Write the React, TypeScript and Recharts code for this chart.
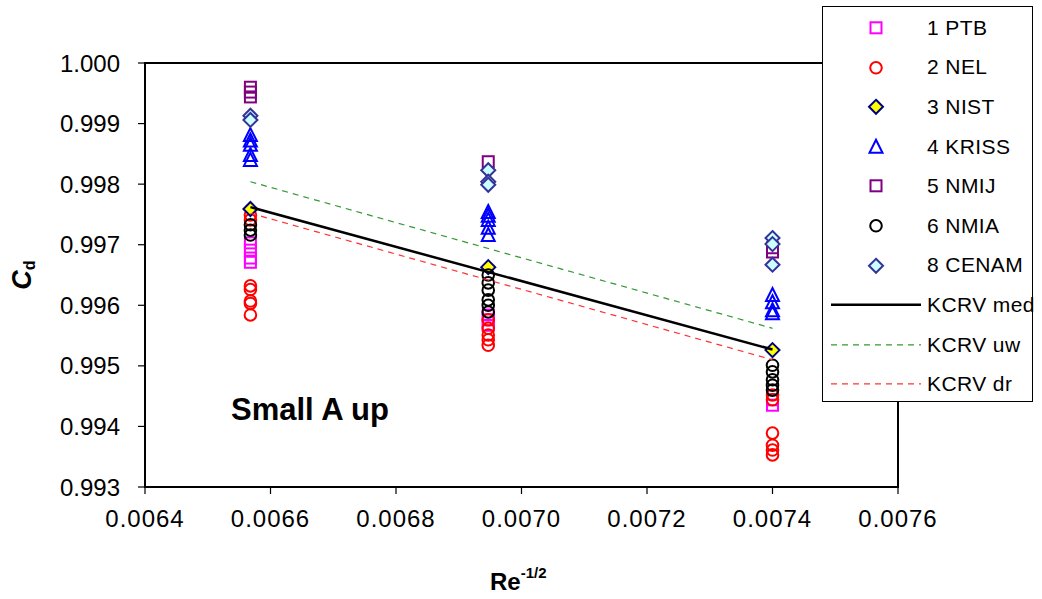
import React from 'react';
import {
  ScatterChart, Scatter, XAxis, YAxis, ReferenceArea, Legend, Customized,
} from 'recharts';

// Re^-1/2 positions of the three test points
const RE = [0.006568, 0.006947, 0.0074];

// Cd per lab, one list per test point
const ptb = [[0.99703, 0.99691, 0.99678, 0.99671], [0.99584, 0.99576, 0.99567], [0.99444, 0.99435]];
const nel = [
  [0.99749, 0.99741, 0.99632, 0.99626, 0.99607, 0.99603, 0.99584],
  [0.99576, 0.99562, 0.99551, 0.99543, 0.99534],
  [0.99452, 0.99444, 0.99389, 0.99369, 0.99361, 0.99353],
];
const nist = [[0.99759], [0.99663], [0.99526]];
const kriss = [
  [0.99881, 0.99872, 0.99865, 0.99848, 0.9984],
  [0.99754, 0.99748, 0.99741, 0.99728, 0.99716],
  [0.99617, 0.99605, 0.99592, 0.99587],
];
const nmij = [[0.9996, 0.99952, 0.99944], [0.99837], [0.99695, 0.99688]];
const nmia = [
  [0.99733, 0.99724, 0.99716],
  [0.9965, 0.99637, 0.99625, 0.99609, 0.996, 0.99589],
  [0.99501, 0.9949, 0.99477, 0.99468, 0.9946],
];
const cenam = [[0.99913, 0.99906], [0.99823, 0.99804, 0.99799], [0.99711, 0.99701, 0.99667]];

// KCRV lines, value at first and last test point
const lineX = [RE[0], RE[2]];
const kcrvMed = [0.99762, 0.99527];
const kcrvUw = [0.99804, 0.99562];
const kcrvDr = [0.99752, 0.9951];

const xTicks = [0.0064, 0.0066, 0.0068, 0.007, 0.0072, 0.0074, 0.0076];
const yTicks = [0.993, 0.994, 0.995, 0.996, 0.997, 0.998, 0.999, 1.0];

const FONT = '"Liberation Sans", Arial, sans-serif';

const toPts = (vals: number[][]) =>
  vals.flatMap((col, i) => col.map((y) => ({ x: RE[i], y })));
const toLine = (vals: number[]) => vals.map((y, i) => ({ x: lineX[i], y }));

type Kind = 'square' | 'circle' | 'diamond' | 'triangle';

function Marker({ kind, cx, cy, stroke, fill }: { kind: Kind; cx: number; cy: number; stroke: string; fill: string }) {
  if (kind === 'square')
    return <rect x={cx - 5.5} y={cy - 5.5} width={11} height={11} stroke={stroke} strokeWidth={2} fill={fill} />;
  if (kind === 'circle')
    return <circle cx={cx} cy={cy} r={5.8} stroke={stroke} strokeWidth={2} fill={fill} />;
  if (kind === 'diamond')
    return (
      <polygon
        points={`${cx},${cy - 7} ${cx + 7},${cy} ${cx},${cy + 7} ${cx - 7},${cy}`}
        stroke={stroke} strokeWidth={2} fill={fill}
      />
    );
  return (
    <polygon
      points={`${cx},${cy - 7} ${cx + 6.5},${cy + 6} ${cx - 6.5},${cy + 6}`}
      stroke={stroke} strokeWidth={2} fill={fill}
    />
  );
}

const series = [
  { name: '1 PTB', data: ptb, kind: 'square' as Kind, stroke: '#ff00ff', fill: 'none' },
  { name: '2 NEL', data: nel, kind: 'circle' as Kind, stroke: '#ff0000', fill: 'none' },
  { name: '3 NIST', data: nist, kind: 'diamond' as Kind, stroke: '#000080', fill: '#ffff00' },
  { name: '4 KRISS', data: kriss, kind: 'triangle' as Kind, stroke: '#0000ff', fill: 'none' },
  { name: '5 NMIJ', data: nmij, kind: 'square' as Kind, stroke: '#800080', fill: 'none' },
  { name: '6 NMIA', data: nmia, kind: 'circle' as Kind, stroke: '#000000', fill: 'none' },
  { name: '8 CENAM', data: cenam, kind: 'diamond' as Kind, stroke: '#333399', fill: '#ccffff' },
];

const lines = [
  { name: 'KCRV med', data: kcrvMed, stroke: '#000000', width: 2.5, dash: undefined },
  { name: 'KCRV uw', data: kcrvUw, stroke: '#339933', width: 1.2, dash: '6 5' },
  { name: 'KCRV dr', data: kcrvDr, stroke: '#ff3333', width: 1.2, dash: '6 5' },
];

function LegendBox() {
  const rowH = 39.6;
  const label = { position: 'absolute' as const, left: 104, top: rowH / 2 - 12, lineHeight: '24px', whiteSpace: 'nowrap' as const, letterSpacing: 0.4 };
  return (
    <div
      style={{
        position: 'relative', width: 211, height: 396, boxSizing: 'border-box',
        border: '1px solid #000', background: '#fff', fontFamily: FONT, fontSize: 21,
      }}
    >
      {series.map((s, i) => (
        <div key={s.name} style={{ position: 'absolute', left: 0, top: 1 + i * rowH, height: rowH, width: 240 }}>
          <svg width={100} height={rowH} style={{ position: 'absolute', left: 0, top: 0 }}>
            <Marker kind={s.kind} cx={53} cy={rowH / 2} stroke={s.stroke} fill={s.fill === 'none' ? '#fff' : s.fill} />
          </svg>
          <span style={label}>{s.name}</span>
        </div>
      ))}
      {lines.map((l, j) => {
        const i = series.length + j;
        return (
          <div key={l.name} style={{ position: 'absolute', left: 0, top: 1 + i * rowH, height: rowH, width: 240 }}>
            <svg width={100} height={rowH} style={{ position: 'absolute', left: 0, top: 0 }}>
              <line x1={8} x2={98} y1={rowH / 2} y2={rowH / 2} stroke={l.stroke} strokeWidth={l.width} strokeDasharray={l.dash} />
            </svg>
            <span style={label}>{l.name}</span>
          </div>
        );
      })}
    </div>
  );
}

const YLabel = () => (
  <text
    x={22} y={275} transform="rotate(-90, 22, 275)" textAnchor="middle"
    fontFamily={FONT} fontWeight="bold" fontSize={27} fill="#000" dominantBaseline="central"
  >
    <tspan fontStyle="italic">C</tspan>
    <tspan fontSize={16} dy={7}>d</tspan>
  </text>
);

const XLabel = () => (
  <text x={490} y={590} fontFamily={FONT} fontWeight="bold" fill="#000">
    <tspan fontSize={24}>Re</tspan>
    <tspan fontSize={15} dy={-12}>-1/2</tspan>
  </text>
);

const Title = () => (
  <text x={231} y={420} fontFamily={FONT} fontWeight="bold" fontSize={31} fill="#000">Small A up</text>
);

export default function App() {
  return (
    <div style={{ position: 'absolute', left: 0, top: 0, width: 1042, height: 599, background: '#fff' }}>
      <ScatterChart width={1042} height={599} margin={{ top: 63, right: 144, bottom: 0, left: 0 }}>
        <XAxis
          type="number" dataKey="x" domain={[0.0064, 0.0076]} ticks={xTicks} allowDataOverflow
          tickFormatter={(v: number) => v.toFixed(4)} height={112}
          axisLine={{ stroke: '#000', strokeWidth: 2 }} tickLine={{ stroke: '#000', strokeWidth: 1.2 }}
          tickSize={7} tickMargin={16}
          tick={{ fill: '#000', fontSize: 24, fontFamily: FONT, letterSpacing: 1 }}
        />
        <YAxis
          type="number" dataKey="y" domain={[0.993, 1.0]} ticks={yTicks} allowDataOverflow
          tickFormatter={(v: number) => v.toFixed(3)} width={145}
          axisLine={{ stroke: '#000', strokeWidth: 2 }} tickLine={{ stroke: '#000', strokeWidth: 1.2 }}
          tickSize={7} tickMargin={18}
          tick={{ fill: '#000', fontSize: 24, fontFamily: FONT }}
        />
        <ReferenceArea
          x1={0.0064} x2={0.0076} y1={0.993} y2={1.0}
          fill="none" fillOpacity={0} stroke="#000" strokeWidth={2} strokeOpacity={1}
        />
        {series.map((s) => (
          <Scatter
            key={s.name} name={s.name} data={toPts(s.data)} isAnimationActive={false}
            shape={(p: any) => <Marker kind={s.kind} cx={p.cx} cy={p.cy} stroke={s.stroke} fill={s.fill} />}
          />
        ))}
        {lines.map((l) => (
          <Scatter
            key={l.name} name={l.name} data={toLine(l.data)} isAnimationActive={false}
            line={{ stroke: l.stroke, strokeWidth: l.width, strokeDasharray: l.dash }}
            lineType="joint" shape={() => <g />}
          />
        ))}
        <Customized component={YLabel} />
        <Customized component={XLabel} />
        <Customized component={Title} />
        <Legend
          layout="vertical" align="center" verticalAlign="middle" width={211} height={396}
          wrapperStyle={{ left: 822, top: 6, width: 211, height: 396 }}
          content={() => <LegendBox />}
        />
      </ScatterChart>
    </div>
  );
}
